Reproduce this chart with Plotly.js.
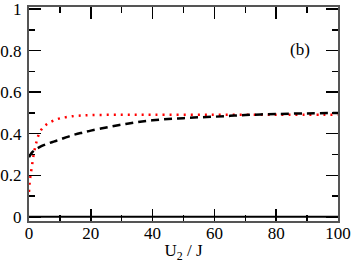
<!DOCTYPE html>
<html>
<head>
<meta charset="utf-8">
<script src="https://cdn.plot.ly/plotly-3.0.1.min.js"></script>
<style>html,body{margin:0;padding:0;background:#fff;}#chart{width:353px;height:266px;}</style>
</head>
<body>
<div id="chart"></div>
<script>
// Black dashed series
const xDash = [0, 1, 2, 4, 6, 8, 10, 12.5, 15, 17.5, 20, 25, 30, 35, 40, 45, 50, 55, 60, 65, 70, 75, 80, 90, 100];
const yDash = [0.287, 0.31, 0.323, 0.34, 0.352, 0.362, 0.372, 0.385, 0.397, 0.406, 0.415, 0.43, 0.444, 0.456, 0.465, 0.471, 0.475, 0.479, 0.482, 0.486, 0.49, 0.493, 0.495, 0.498, 0.5];
// Red dotted series
const xDot = [0, 0.25, 0.5, 1, 1.5, 2, 2.5, 3, 4, 5, 6, 8, 10, 13, 16, 20, 30, 40, 60, 80, 100];
const yDot = [0.12, 0.17, 0.2, 0.25, 0.3, 0.335, 0.365, 0.39, 0.42, 0.436, 0.448, 0.464, 0.474, 0.482, 0.487, 0.49, 0.491, 0.491, 0.491, 0.491, 0.491];
// Zero line series
const xZero = [0, 100];
const yZero = [0, 0];

const xTicks = [0, 20, 40, 60, 80, 100];
const yTicks = [0, 0.2, 0.4, 0.6, 0.8, 1];
const yTickText = ['0', '0.2', '0.4', '0.6', '0.8', '1'];

const font = {family: 'Liberation Serif, Times New Roman, serif', size: 17, color: '#000'};

const traces = [
  {x: xZero, y: yZero, mode: 'lines', line: {color: '#000', width: 2}, hoverinfo: 'skip'},
  {x: xDot, y: yDot, mode: 'lines', line: {color: '#ff0000', width: 2.5, dash: '2px,5px', shape: 'spline'}},
  {x: xDash, y: yDash, mode: 'lines', line: {color: '#000', width: 2.5, dash: '8px,5px', shape: 'spline'}}
];

const axisCommon = {
  showgrid: false, zeroline: false, showline: true, linecolor: '#555', linewidth: 2,
  mirror: 'ticks', ticks: 'inside', ticklen: 12, tickwidth: 1.5, tickcolor: '#000',
  tickfont: font, ticklabeloverflow: 'allow'
};

const layout = {
  width: 353, height: 266,
  margin: {l: 29, r: 15, t: 7, b: 45},
  paper_bgcolor: '#fff', plot_bgcolor: '#fff',
  showlegend: false,
  font: font,
  xaxis: Object.assign({}, axisCommon, {
    range: [0, 100], tickvals: xTicks, ticktext: xTicks.map(String),
    ticklabelstandoff: -4,
    minor: {ticks: 'inside', ticklen: 6, tickwidth: 1.5, tickcolor: '#000', dtick: 10, tick0: 0},
    title: {text: 'U<sub>2</sub> / J', font: font, standoff: 2}
  }),
  yaxis: Object.assign({}, axisCommon, {
    range: [-0.02, 1.01], tickvals: yTicks, ticktext: yTickText,
    ticklabelstandoff: 2,
    minor: {ticks: 'inside', ticklen: 6, tickwidth: 1.5, tickcolor: '#000', dtick: 0.1, tick0: 0}
  }),
  annotations: [{x: 87.7, y: 0.807, xref: 'x', yref: 'y', text: '(b)', showarrow: false, font: font}]
};

Plotly.newPlot('chart', traces, layout, {displayModeBar: false, staticPlot: true});
</script>
</body>
</html>
